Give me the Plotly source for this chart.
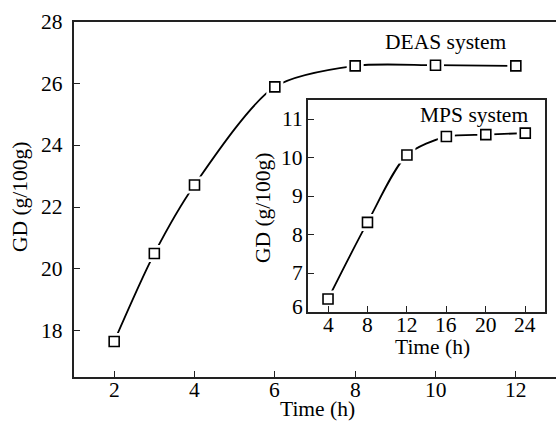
import plotly.graph_objects as go

# Main chart (DEAS system)
deas_time = [2, 3, 4, 6, 8, 10, 12]
deas_gd = [17.65, 20.5, 22.72, 25.9, 26.58, 26.6, 26.58]

# Inset chart (MPS system)
mps_time = [4, 8, 12, 16, 20, 24]
mps_gd = [6.33, 8.32, 10.07, 10.55, 10.6, 10.64]

main_xticks = [2, 4, 6, 8, 10, 12]
main_yticks = [18, 20, 22, 24, 26, 28]
inset_xticks = [4, 8, 12, 16, 20, 24]
inset_yticks = [6, 7, 8, 9, 10, 11]

FONT = "Liberation Serif"
FS = 21.5
W, H = 556, 423
L, R, T, B = 74, 0, 22, 46
pw, ph = W - L - R, H - T - B

def px(x):
    return (x - L) / pw

def py(y):
    return (H - B - y) / ph

fig = go.Figure()

def add_series(x, y, xa, ya):
    fig.add_trace(go.Scatter(x=x, y=y, mode="lines", xaxis=xa, yaxis=ya,
                             line=dict(color="black", width=1.8, shape="spline", smoothing=0.8),
                             showlegend=False, hoverinfo="skip"))
    fig.add_trace(go.Scatter(x=x, y=y, mode="markers", xaxis=xa, yaxis=ya,
                             marker=dict(symbol="square", size=17, color="white",
                                         line=dict(width=0)),
                             showlegend=False, hoverinfo="skip"))
    fig.add_trace(go.Scatter(x=x, y=y, mode="markers", xaxis=xa, yaxis=ya,
                             marker=dict(symbol="square", size=10, color="white",
                                         line=dict(color="black", width=1.6)),
                             showlegend=False))

add_series(deas_time, deas_gd, "x", "y")
add_series(mps_time, mps_gd, "x2", "y2")

axis_common = dict(
    showgrid=False, zeroline=False, ticks="inside", ticklen=6, tickwidth=1.3,
    tickcolor="#222", showline=True, linecolor="#222", linewidth=1.5,
    showticklabels=False,
)

x2dom = [px(308.3), px(545)]
y2dom = [py(311.7), py(100)]

fig.update_layout(
    width=W, height=H,
    margin=dict(l=L, r=R, t=T, b=B, pad=0),
    paper_bgcolor="white", plot_bgcolor="white",
    font=dict(family=FONT, size=FS, color="black"),
    xaxis=dict(domain=[0, 1], range=[1, 13], tickvals=main_xticks, mirror=True, **axis_common),
    yaxis=dict(domain=[0, 1], range=[16.5, 28], tickvals=main_yticks, **axis_common),
    xaxis2=dict(domain=x2dom, range=[2, 26], tickvals=inset_xticks,
                anchor="y2", mirror=True, **axis_common),
    yaxis2=dict(domain=y2dom, range=[6, 11.5], tickvals=inset_yticks,
                anchor="x2", mirror=True, **axis_common),
)

tf = dict(family=FONT, size=FS, color="black")

def ann(**kw):
    base = dict(showarrow=False, font=tf, xanchor="center", yanchor="middle")
    base.update(kw)
    fig.add_annotation(**base)

# tick labels
for v in main_xticks:
    ann(text=str(v), x=v, xref="x", y=py(390), yref="paper")
for v in main_yticks:
    ann(text=str(v), x=px(65), xref="paper", xanchor="right", y=v, yref="y")
for v in inset_xticks:
    ann(text=str(v), x=v, xref="x2", y=py(324.5), yref="paper")
for v in inset_yticks:
    ann(text=str(v), x=px(305), xref="paper", xanchor="right", y=v, yref="y2",
        yshift=5 if v == inset_yticks[0] else 0)

# series labels and axis titles
ann(text="DEAS system", x=10.25, y=27.36, xref="x", yref="y")
ann(text="MPS system", x=18.8, y=11.11, xref="x2", yref="y2")
ann(text="Time (h)", x=px(317.5), y=py(423), xref="paper", yref="paper", yanchor="bottom")
ann(text="GD (g/100g)", x=px(20), y=py(197), xref="paper", yref="paper", textangle=-90)
ann(text="Time (h)", x=px(432), y=py(346.7), xref="paper", yref="paper")
ann(text="GD (g/100g)", x=px(263), y=py(208), xref="paper", yref="paper", textangle=-90)

fig.write_html("out.html")
